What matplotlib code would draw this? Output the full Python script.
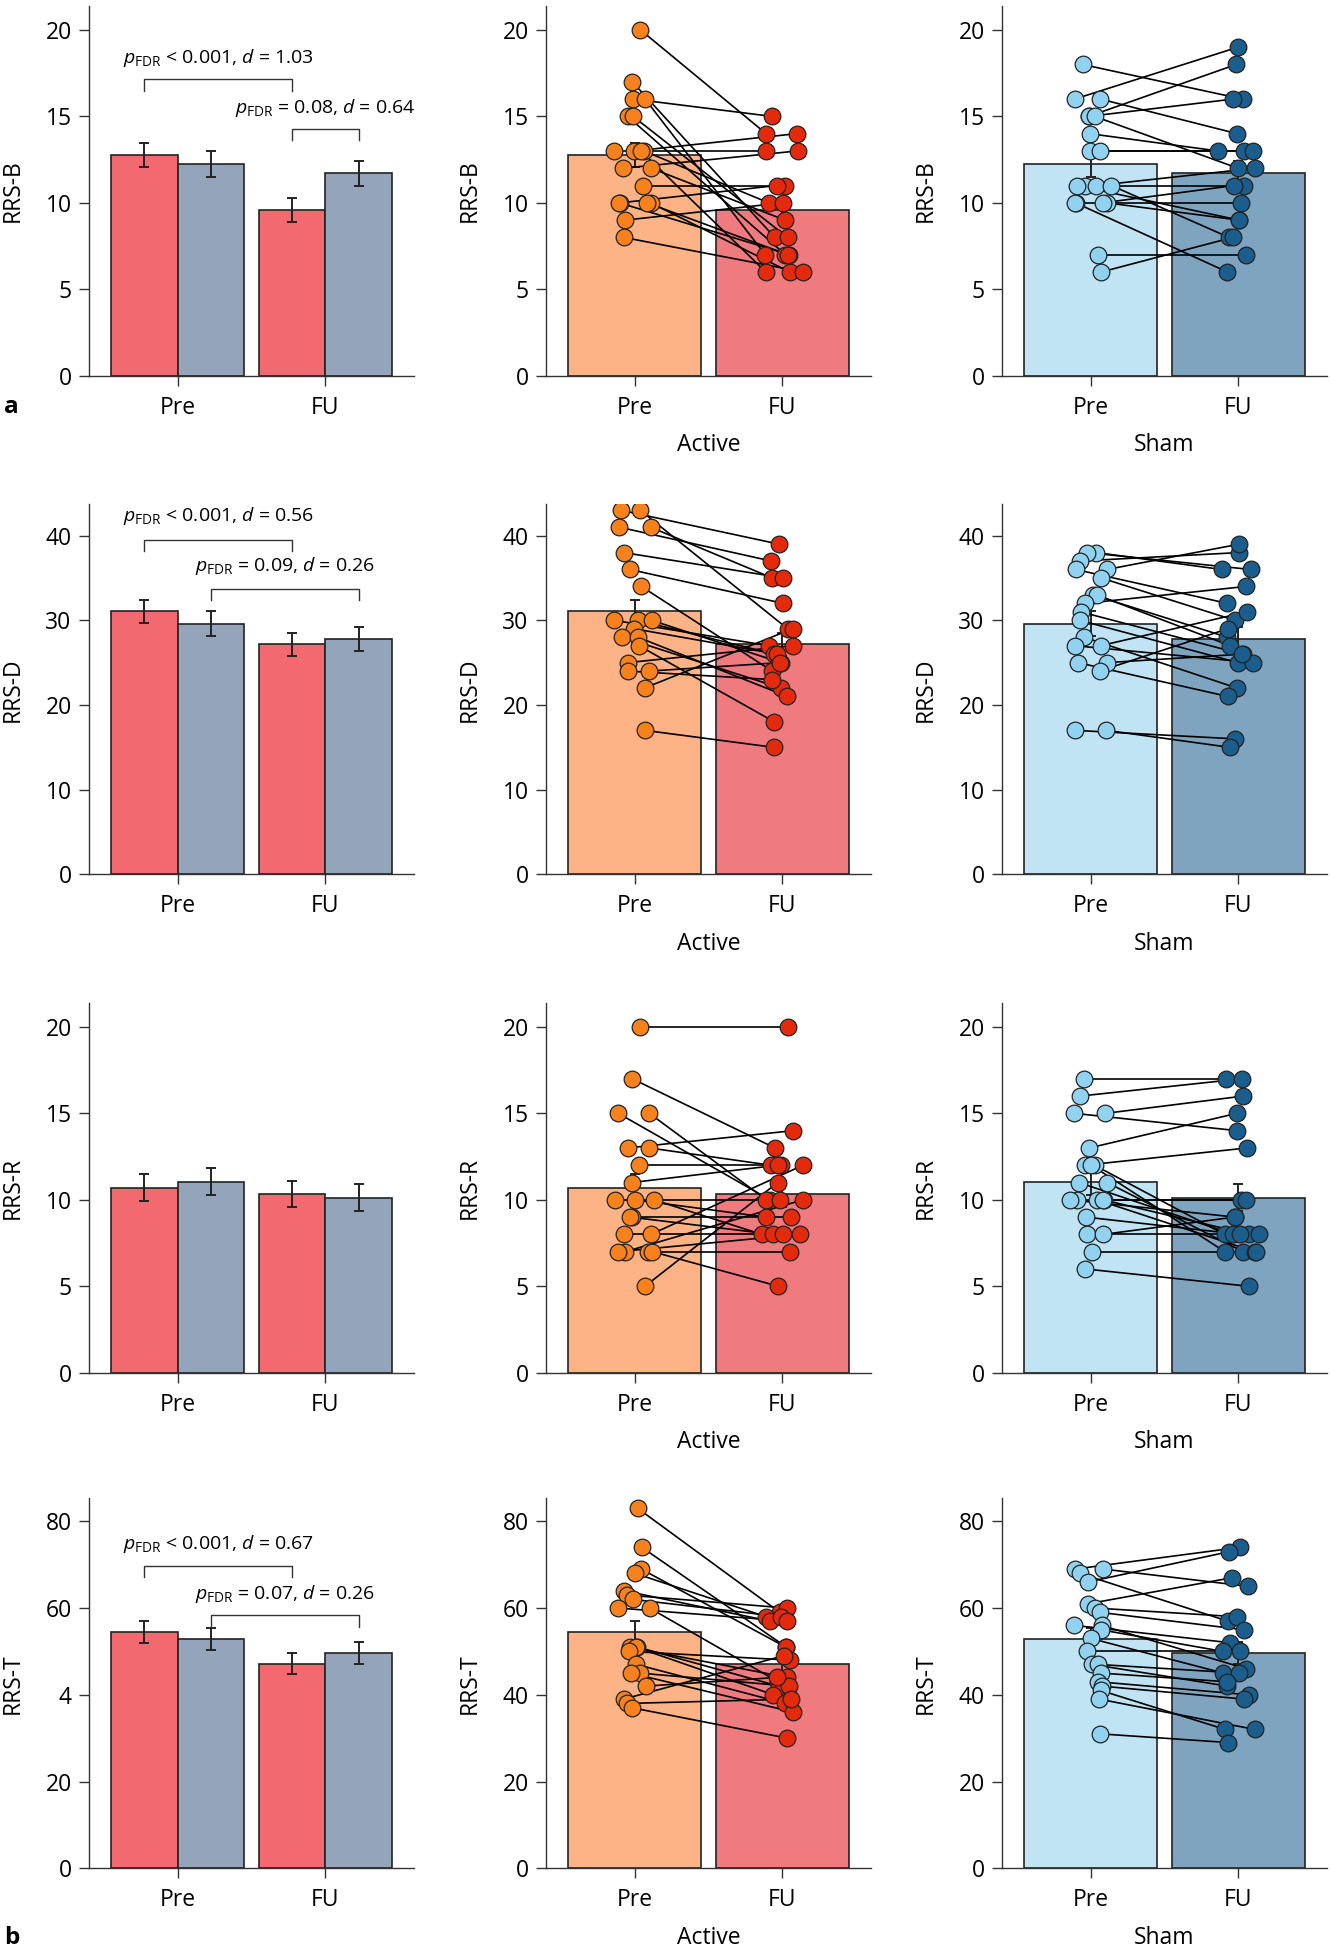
import numpy as np
import matplotlib
matplotlib.use("Agg")
import matplotlib.pyplot as plt

plt.rcParams['font.family'] = ['Open Sans', 'DejaVu Sans']
plt.rcParams['mathtext.fontset'] = 'custom'
plt.rcParams['mathtext.rm'] = 'Open Sans'
plt.rcParams['mathtext.it'] = 'Open Sans:italic'

# --- data -------------------------------------------------------------
scales = ["RRS-B", "RRS-D", "RRS-R", "RRS-T"]
times = ["Pre", "FU"]

# group means and standard errors (left column)
active_mean_pre = [12.78, 31.05, 10.71, 54.55]
active_mean_fu = [9.60, 27.15, 10.33, 47.2]
sham_mean_pre = [12.24, 29.6, 11.04, 52.85]
sham_mean_fu = [11.70, 27.8, 10.13, 49.7]
active_se_pre = [0.70, 1.40, 0.77, 2.5]
active_se_fu = [0.69, 1.36, 0.76, 2.4]
sham_se_pre = [0.74, 1.48, 0.79, 2.6]
sham_se_fu = [0.71, 1.40, 0.78, 2.5]

# individual scores, paired by position
active_pre_B = [20, 17, 16, 16, 15, 15, 13, 13, 13, 13, 12, 12, 11, 10, 10, 10, 10, 9, 8]
active_fu_B = [14, 8, 15, 7, 7, 8, 13, 14, 10, 6, 13, 9, 11, 11, 7, 6, 7, 10, 6]
sham_pre_B = [18, 16, 16, 15, 15, 15, 14, 13, 13, 11, 11, 11, 11, 10, 10, 10, 10, 7, 6]
sham_fu_B = [16, 19, 14, 18, 16, 12, 13, 13, 13, 11, 9, 12, 8, 10, 6, 9, 11, 7, 8]

active_pre_D = [43, 43, 41, 41, 38, 36, 34, 30, 30, 30, 29, 28, 28, 27, 25, 24, 24, 22, 17]
active_fu_D = [39, 29, 37, 35, 35, 32, 24, 27, 26, 25, 26, 22, 21, 18, 27, 23, 25, 29, 15]
sham_pre_D = [38, 38, 37, 36, 36, 35, 33, 33, 32, 31, 30, 28, 27, 27, 25, 25, 24, 17, 17]
sham_fu_D = [36, 36, 38, 32, 39, 30, 28, 27, 34, 26, 25, 22, 25, 31, 21, 26, 29, 16, 15]

active_pre_R = [20, 17, 15, 15, 13, 13, 12, 11, 10, 10, 10, 9, 9, 8, 8, 7, 7, 7, 7, 5]
active_fu_R = [20, 13, 10, 10, 14, 12, 12, 12, 10, 9, 8, 9, 8, 8, 12, 10, 8, 7, 5, 11]
sham_pre_R = [17, 16, 15, 15, 13, 12, 12, 12, 11, 11, 10, 10, 10, 10, 10, 9, 8, 8, 7, 6]
sham_fu_R = [17, 17, 14, 16, 15, 13, 8, 7, 8, 7, 10, 9, 7, 10, 8, 8, 8, 9, 7, 5]

active_pre_T = [83, 74, 69, 68, 64, 63, 62, 60, 60, 51, 51, 51, 50, 47, 45, 45, 42, 39, 38, 37]
active_fu_T = [59, 51, 51, 58, 57, 60, 58, 57, 43, 44, 42, 40, 48, 38, 42, 36, 44, 49, 39, 30]
sham_pre_T = [69, 68, 69, 66, 61, 60, 59, 56, 56, 55, 53, 50, 47, 47, 45, 43, 42, 41, 39, 31]
sham_fu_T = [74, 57, 65, 73, 67, 58, 55, 52, 46, 50, 45, 50, 42, 45, 43, 40, 39, 32, 32, 29]

active_pre = [active_pre_B, active_pre_D, active_pre_R, active_pre_T]
active_fu = [active_fu_B, active_fu_D, active_fu_R, active_fu_T]
sham_pre = [sham_pre_B, sham_pre_D, sham_pre_R, sham_pre_T]
sham_fu = [sham_fu_B, sham_fu_D, sham_fu_R, sham_fu_T]

# significance brackets (left column)
stat_labels = [
    [r"$p_{\mathrm{FDR}}$ < 0.001, $d$ = 1.03", r"$p_{\mathrm{FDR}}$ = 0.08, $d$ = 0.64"],
    [r"$p_{\mathrm{FDR}}$ < 0.001, $d$ = 0.56", r"$p_{\mathrm{FDR}}$ = 0.09, $d$ = 0.26"],
    [],
    [r"$p_{\mathrm{FDR}}$ < 0.001, $d$ = 0.67", r"$p_{\mathrm{FDR}}$ = 0.07, $d$ = 0.26"],
]

# --- layout / style ---------------------------------------------------
W, H = 1331, 1950
col_left = [89, 546, 1002]
ax_w, ax_h = 325, 370
row_bottom = [375.7, 874.3, 1372.7, 1868.3]
ytop = [21.4, 43.7, 21.4, 85.3]
yticks = [[0, 5, 10, 15, 20], [0, 10, 20, 30, 40], [0, 5, 10, 15, 20], [0, 20, 40, 60, 80]]
fs = 16.5
edge = '#222222'

c_act, c_sham = '#F26A6F', '#94A4BB'
bar_cols = {'Active': ('#FDB385', '#F07B7F'), 'Sham': ('#C0E4F3', '#7FA4C0')}
pt_cols = {'Active': ('#F7811C', '#E42A0C'), 'Sham': ('#90D2EF', '#1B5D8C')}

# brackets: (x1, x2, top, leg bottom, text y)
brackets = [
    [(-0.225, 0.775, 17.15, 16.45, 18.4), (0.775, 1.225, 14.28, 13.65, 15.5)],
    [(-0.225, 0.775, 39.5, 38.2, 42.3), (0.225, 1.225, 33.7, 32.4, 36.4)],
    [],
    [(-0.225, 0.775, 69.7, 67.1, 74.8), (0.225, 1.225, 58.3, 55.7, 63.2)],
]


def jitter(vals):
    offs = []
    for i, v in enumerate(vals):
        same = [j for j, w in enumerate(vals) if w == v]
        k, n = same.index(i), len(same)
        base = 0.075 * np.sin(2.3 * i + 1.7 * v)
        offs.append(np.clip(base + (k - (n - 1) / 2) * 0.075, -0.14, 0.14))
    return np.array(offs)


def style_axis(ax, r):
    ax.set_xlim(-0.6, 1.6)
    ax.set_ylim(0, ytop[r])
    ax.set_yticks(yticks[r])
    ax.set_xticks([0, 1])
    ax.set_xticklabels(times)
    for s in ['top', 'right']:
        ax.spines[s].set_visible(False)
    for s in ['left', 'bottom']:
        ax.spines[s].set_color('#333333')
        ax.spines[s].set_linewidth(1.0)
    ax.tick_params(length=7.5, width=1.0, color='#333333', labelsize=fs, pad=5)
    ax.tick_params(axis='x', pad=7)
    ax.set_ylabel(scales[r], fontsize=fs)
    ax.yaxis.set_label_coords(-0.197, 0.5)


fig = plt.figure(figsize=(W / 100, H / 100), dpi=100)

for r in range(4):
    # left column: grouped bars
    ax = fig.add_axes([col_left[0] / W, 1 - row_bottom[r] / H, ax_w / W, ax_h / H])
    ekw = dict(lw=1.4, capthick=1.4, ecolor=edge)
    ax.bar([-0.225, 0.775], [active_mean_pre[r], active_mean_fu[r]], width=0.45,
           color=c_act, edgecolor=edge, linewidth=1.2,
           yerr=[active_se_pre[r], active_se_fu[r]], capsize=3.5, error_kw=ekw)
    ax.bar([0.225, 1.225], [sham_mean_pre[r], sham_mean_fu[r]], width=0.45,
           color=c_sham, edgecolor=edge, linewidth=1.2,
           yerr=[sham_se_pre[r], sham_se_fu[r]], capsize=3.5, error_kw=ekw)
    for (x1, x2, top, leg, ty), lab in zip(brackets[r], stat_labels[r]):
        ax.plot([x1, x1, x2, x2], [leg, top, top, leg], color='#333333', lw=1.0)
        ax.text((x1 + x2) / 2, ty, lab, ha='center', va='center', fontsize=14)
    style_axis(ax, r)
    if r == 3:
        ax.set_yticklabels(['0', '20', '4', '60', '80'])

    # middle / right columns: bars with paired individual scores
    groups = [('Active', active_pre[r], active_fu[r],
               [active_mean_pre[r], active_mean_fu[r]], [active_se_pre[r], active_se_fu[r]]),
              ('Sham', sham_pre[r], sham_fu[r],
               [sham_mean_pre[r], sham_mean_fu[r]], [sham_se_pre[r], sham_se_fu[r]])]
    for c, (name, pre, fu, means, ses) in enumerate(groups, start=1):
        ax = fig.add_axes([col_left[c] / W, 1 - row_bottom[r] / H, ax_w / W, ax_h / H])
        ax.bar([0, 1], means, width=0.9, color=bar_cols[name], edgecolor=edge,
               linewidth=1.2, zorder=1)
        ax.errorbar([0, 1], means, yerr=ses, fmt='none', ecolor=edge, elinewidth=1.4,
                    capsize=3.5, capthick=1.4, zorder=2)
        xp = 0 + jitter(pre)
        xf = 1 + jitter(fu)
        for a, b, ya, yb in zip(xp, xf, pre, fu):
            ax.plot([a, b], [ya, yb], color='black', lw=1.2, zorder=3)
        ax.plot(xp, pre, 'o', ms=12, mfc=pt_cols[name][0], mec=edge, mew=0.9, zorder=4)
        ax.plot(xf, fu, 'o', ms=12, mfc=pt_cols[name][1], mec=edge, mew=0.9, zorder=4)
        style_axis(ax, r)
        ax.set_xlabel(name, fontsize=fs)
        ax.xaxis.set_label_coords(0.5, -0.155)

fig.text(4 / W, 1 - 413 / H, 'a', fontsize=fs + 1, fontweight='bold', ha='left', va='baseline')
fig.text(4 / W, 1 - 1944 / H, 'b', fontsize=fs + 1, fontweight='bold', ha='left', va='baseline')

fig.savefig('out.png', dpi=100)
